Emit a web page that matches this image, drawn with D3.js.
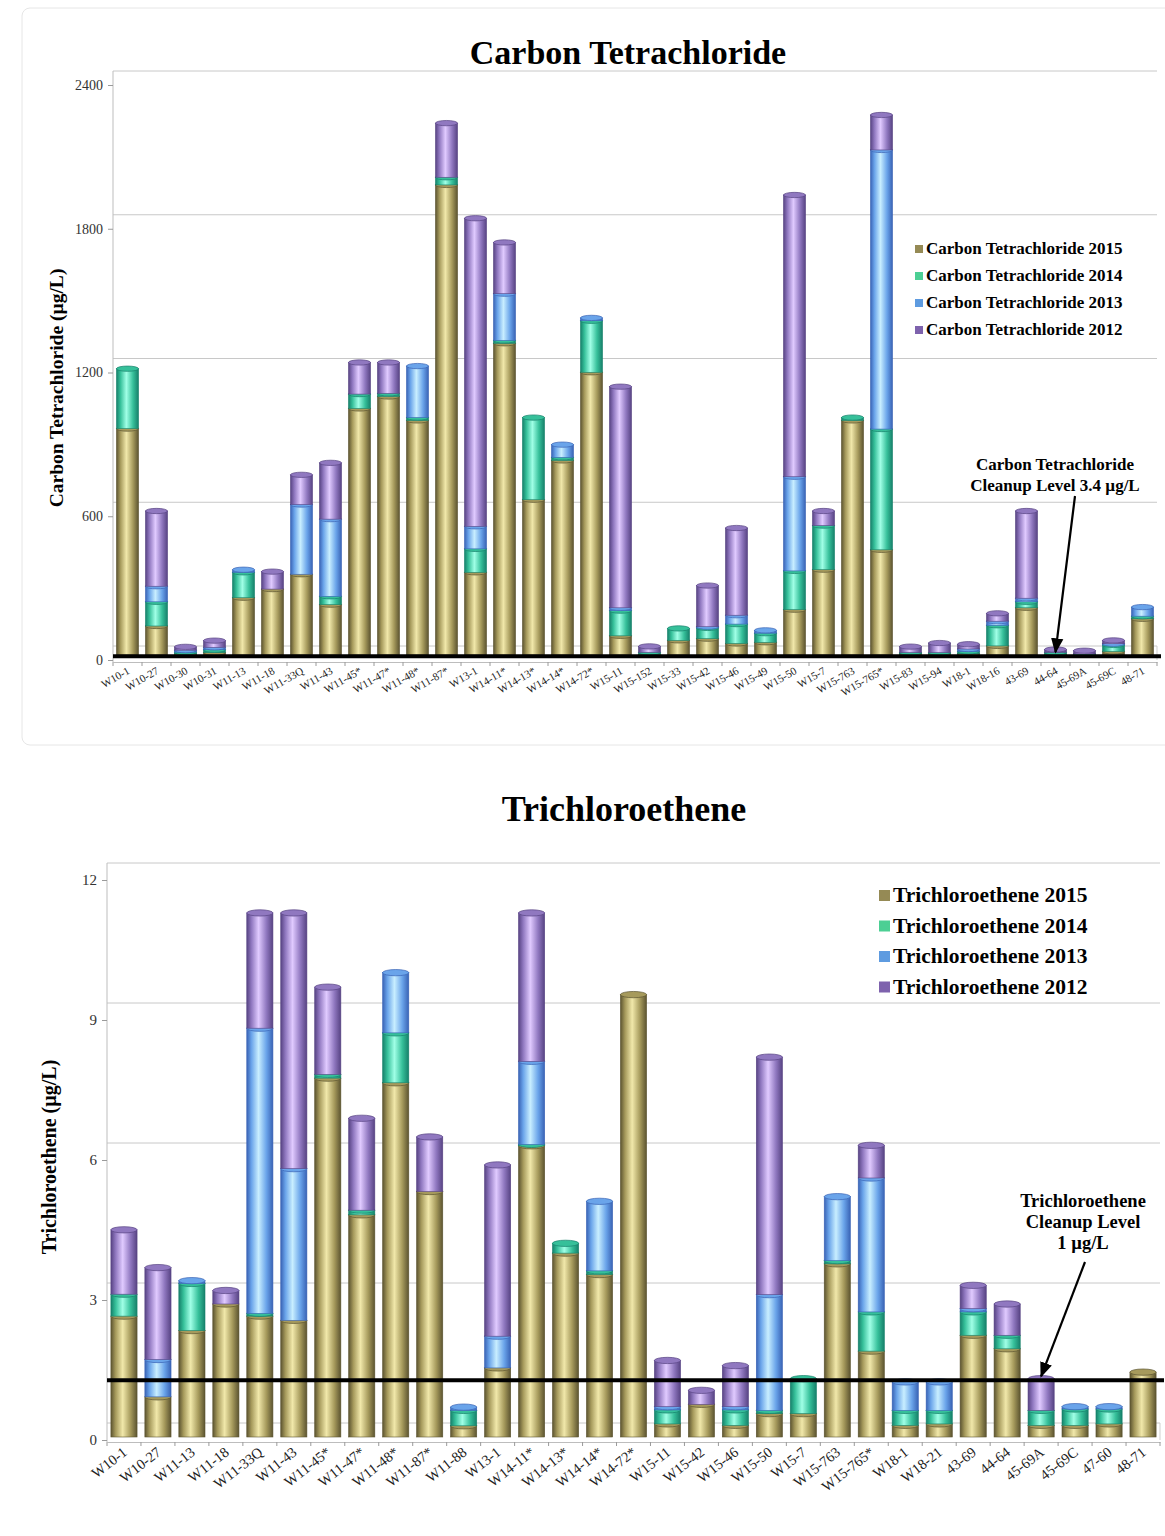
<!DOCTYPE html>
<html>
<head>
<meta charset="utf-8">
<script src="https://cdn.jsdelivr.net/npm/d3@7"></script>
<style>
  body { margin: 0; background: #fff; }
  svg { display: block; font-family: "Liberation Serif", "Times New Roman", serif; }
</style>
</head>
<body>
<svg id="chart" width="1165" height="1536"></svg>
<script>
// ---- Carbon Tetrachloride (ug/L) ----
const ctWells = ["W10-1", "W10-27", "W10-30", "W10-31", "W11-13", "W11-18", "W11-33Q", "W11-43",
  "W11-45*", "W11-47*", "W11-48*", "W11-87*", "W13-1", "W14-11*", "W14-13*", "W14-14*", "W14-72*",
  "W15-11", "W15-152", "W15-33", "W15-42", "W15-46", "W15-49", "W15-50", "W15-7", "W15-763",
  "W15-765*", "W15-83", "W15-94", "W18-1", "W18-16", "43-69", "44-64", "45-69A", "45-69C", "48-71"];
const ct2015 = [945, 121, 4, 10, 239, 275, 337, 210, 1029, 1079, 979, 1962, 345, 1301, 648, 812, 1180,
  80, 3, 61, 68, 48, 53, 189, 356, 979, 439, 5, 5, 5, 38, 197, 3, 2, 15, 151];
const ct2014 = [250, 101, 8, 12, 106, 0, 0, 35, 60, 13, 12, 32, 98, 12, 343, 13, 215,
  105, 8, 50, 45, 81, 38, 162, 184, 12, 504, 5, 5, 10, 86, 25, 8, 2, 27, 11];
const ct2013 = [0, 65, 8, 10, 11, 0, 291, 322, 0, 0, 215, 0, 94, 195, 0, 53, 12,
  12, 0, 0, 5, 37, 12, 393, 0, 0, 1165, 0, 0, 10, 17, 15, 0, 0, 5, 38];
const ct2012 = [0, 314, 14, 28, 0, 73, 124, 235, 132, 129, 0, 226, 1286, 214, 0, 0, 0,
  923, 25, 0, 172, 364, 0, 1176, 61, 0, 146, 25, 40, 20, 33, 364, 12, 14, 14, 0];
const ctTicks = [0, 600, 1200, 1800, 2400];

// ---- Trichloroethene (ug/L) ----
const tceWells = ["W10-1", "W10-27", "W11-13", "W11-18", "W11-33Q", "W11-43", "W11-45*", "W11-47*",
  "W11-48*", "W11-87*", "W11-88", "W13-1", "W14-11*", "W14-13*", "W14-14*", "W14-72*", "W15-11",
  "W15-42", "W15-46", "W15-50", "W15-7", "W15-763", "W15-765*", "W18-1", "W18-21", "43-69",
  "44-64", "45-69A", "45-69C", "47-60", "48-71"];
const tce2015 = [2.59, 0.86, 2.28, 2.85, 2.59, 2.50, 7.69, 4.76, 7.59, 5.26, 0.24, 1.48, 6.24, 3.94,
  3.48, 9.48, 0.28, 0.70, 0.25, 0.50, 0.50, 3.71, 1.84, 0.25, 0.28, 2.18, 1.89, 0.25, 0.25, 0.28, 1.39];
const tce2014 = [0.47, 0, 1.01, 0, 0.06, 0, 0.08, 0.10, 1.07, 0, 0.33, 0, 0.03, 0.21,
  0.08, 0, 0.30, 0, 0.33, 0.07, 0.75, 0.07, 0.84, 0.32, 0.29, 0.50, 0.29, 0.32, 0.35, 0.32, 0];
const tce2013 = [0, 0.80, 0.06, 0, 6.11, 3.25, 0, 0, 1.29, 0, 0.07, 0.68, 1.78, 0,
  1.49, 0, 0.07, 0, 0.07, 2.48, 0, 1.37, 2.87, 0.61, 0.61, 0.07, 0, 0, 0.05, 0.05, 0];
const tce2012 = [1.38, 1.97, 0, 0.29, 2.47, 5.48, 1.87, 1.97, 0, 1.17, 0, 3.67, 3.18, 0,
  0, 0, 0.99, 0.30, 0.88, 5.09, 0, 0, 0.70, 0, 0, 0.50, 0.67, 0.68, 0, 0, 0];
const tceTicks = [0, 3, 6, 9, 12];

const years = ["2015", "2014", "2013", "2012"];
// dark edge, mid, highlight for the cylinder look, plus a flat legend colour
const palette = {
  "2015": { dark: "#5c5430", mid: "#a69a5c", light: "#f1e8aa", key: "#958a55" },
  "2014": { dark: "#16806a", mid: "#36c09a", light: "#a0ffe6", key: "#4ccf94" },
  "2013": { dark: "#3963b5", mid: "#6aa4ea", light: "#c8eeff", key: "#5e9be0" },
  "2012": { dark: "#574383", mid: "#9078c0", light: "#e0caff", key: "#7e62ad" }
};

const svg = d3.select("#chart");
const defs = svg.append("defs");

years.forEach(function(yr) {
  let c = palette[yr];
  let g = defs.append("linearGradient").attr("id", "cyl" + yr)
    .attr("x1", 0).attr("x2", 1).attr("y1", 0).attr("y2", 0);
  g.append("stop").attr("offset", "0%").attr("stop-color", c.dark);
  g.append("stop").attr("offset", "18%").attr("stop-color", c.mid);
  g.append("stop").attr("offset", "45%").attr("stop-color", c.light);
  g.append("stop").attr("offset", "75%").attr("stop-color", c.mid);
  g.append("stop").attr("offset", "100%").attr("stop-color", c.dark);
});

defs.append("marker").attr("id", "arrow")
  .attr("viewBox", "0 0 10 10").attr("refX", 9).attr("refY", 5)
  .attr("markerWidth", 7).attr("markerHeight", 7).attr("orient", "auto")
  .append("path").attr("d", "M0,1 L10,5 L0,9 Z").attr("fill", "#000");

// faint chart-area frame around the upper chart
svg.append("rect").attr("x", 22).attr("y", 8).attr("width", 1200).attr("height", 737)
  .attr("rx", 8).attr("fill", "none").attr("stroke", "#e6e6e6");

function drawChart(o) {
  let g = svg.append("g");
  let rows = o.wells.map(function(w, i) {
    let r = { well: w };
    years.forEach(function(yr, k) { r[yr] = o.series[k][i]; });
    return r;
  });
  let stacked = d3.stack().keys(years)(rows);

  let x = d3.scaleBand().domain(o.wells).range([o.x0, o.x1]).paddingInner(o.pad).paddingOuter(o.pad / 2);
  // front scale (axis labels); bars and back wall are drawn with a small depth shift
  let y = d3.scaleLinear().domain([0, o.max]).range([o.yZero, o.yTop]);
  let yBar = function(v) { return y(v) + o.barShift; };
  let yWall = function(v) { return y(v) + o.wallShift; };

  // title
  g.append("text").attr("x", o.titleX).attr("y", o.titleY)
    .attr("text-anchor", "middle").attr("font-weight", "bold").attr("font-size", o.titleSize)
    .text(o.title);

  // back wall gridlines + left wall
  g.selectAll(".grid").data(o.ticks).enter().append("line")
    .attr("x1", o.x0).attr("x2", o.x1)
    .attr("y1", function(d) { return yWall(d); }).attr("y2", function(d) { return yWall(d); })
    .attr("stroke", "#c8c8c8").attr("stroke-width", 1);
  g.append("line").attr("x1", o.x0).attr("x2", o.x0)
    .attr("y1", yWall(o.max)).attr("y2", o.yZero + 2)
    .attr("stroke", "#bdbdbd");
  g.append("line").attr("x1", o.x1).attr("x2", o.x1)
    .attr("y1", yWall(0)).attr("y2", o.yZero)
    .attr("stroke", "#cfcfcf");

  // y axis
  let yAxis = d3.axisLeft(y).tickValues(o.ticks).tickFormat(d3.format("d")).tickSize(5).tickPadding(5);
  let ax = g.append("g").attr("transform", "translate(" + o.x0 + ",0)").call(yAxis);
  ax.select(".domain").remove();
  ax.selectAll("line").attr("stroke", "#9a9a9a");
  ax.selectAll("text").attr("font-family", "Liberation Serif, serif")
    .attr("font-size", o.tickSize).attr("fill", "#333");

  g.append("text")
    .attr("transform", "translate(" + o.yLabelX + "," + o.yLabelY + ") rotate(-90)")
    .attr("text-anchor", "middle").attr("font-weight", "bold").attr("font-size", o.yLabelSize)
    .text(o.yLabel);

  // x axis ticks and labels
  let xAxis = d3.axisBottom(x).tickSize(0).tickFormat("");
  let xa = g.append("g").attr("transform", "translate(0," + (o.yZero + 2) + ")").call(xAxis);
  xa.select(".domain").attr("stroke", "#bdbdbd");
  g.selectAll(".xtick").data(o.wells.concat([null])).enter().append("line")
    .attr("x1", function(d, i) { return o.x0 + i * x.step(); })
    .attr("x2", function(d, i) { return o.x0 + i * x.step(); })
    .attr("y1", o.yZero + 2).attr("y2", o.yZero + 6)
    .attr("stroke", "#9a9a9a");
  g.selectAll(".xlab").data(o.wells).enter().append("text")
    .attr("transform", function(d) {
      return "translate(" + (x(d) + x.bandwidth() / 2 + o.labelDx) + "," + (o.yZero + o.labelDy) + ") rotate(" + o.angle + ")";
    })
    .attr("text-anchor", "end").attr("font-size", o.labelSize).attr("fill", "#222")
    .text(function(d) { return d; });

  // stacked cylinders
  let bw = x.bandwidth();
  let ry = Math.max(2, bw * 0.12);
  stacked.forEach(function(layer) {
    let yr = layer.key;
    let lg = g.append("g");
    let segs = layer.filter(function(d) { return d[1] - d[0] > 0; });
    lg.selectAll("rect").data(segs).enter().append("rect")
      .attr("x", function(d) { return x(d.data.well); })
      .attr("y", function(d) { return yBar(d[1]); })
      .attr("width", bw)
      .attr("height", function(d) { return Math.max(0.8, yBar(d[0]) - yBar(d[1])); })
      .attr("fill", "url(#cyl" + yr + ")")
      .attr("stroke", palette[yr].dark).attr("stroke-width", 0.6);
    lg.selectAll("ellipse").data(segs).enter().append("ellipse")
      .attr("cx", function(d) { return x(d.data.well) + bw / 2; })
      .attr("cy", function(d) { return yBar(d[1]); })
      .attr("rx", bw / 2).attr("ry", ry)
      .attr("fill", palette[yr].mid).attr("stroke", palette[yr].dark).attr("stroke-width", 0.7);
  });

  // cleanup level line
  g.append("line").attr("x1", o.x0).attr("x2", o.x1 + 4)
    .attr("y1", y(o.level) + o.lineShift).attr("y2", y(o.level) + o.lineShift)
    .attr("stroke", "#000").attr("stroke-width", 4);

  // legend
  let leg = g.append("g");
  years.forEach(function(yr, k) {
    let ly = o.legY + k * o.legDy;
    leg.append("rect").attr("x", o.legX).attr("y", ly - o.legBox - 1)
      .attr("width", o.legBox).attr("height", o.legBox).attr("fill", palette[yr].key);
    leg.append("text").attr("x", o.legX + o.legBox + 3).attr("y", ly)
      .attr("font-weight", "bold").attr("font-size", o.legSize)
      .text(o.name + " " + yr);
  });

  // annotation
  o.note.forEach(function(t, k) {
    g.append("text").attr("x", o.noteX).attr("y", o.noteY + k * o.noteDy)
      .attr("text-anchor", "middle").attr("font-weight", "bold").attr("font-size", o.noteSize)
      .text(t);
  });
  let tipX = x(o.arrowWell) + bw / 2;
  g.append("line")
    .attr("x1", o.arrowFrom[0]).attr("y1", o.arrowFrom[1])
    .attr("x2", tipX).attr("y2", y(o.level) + o.lineShift - 4)
    .attr("stroke", "#000").attr("stroke-width", 2.2)
    .attr("marker-end", "url(#arrow)");
}

drawChart({
  wells: ctWells, series: [ct2015, ct2014, ct2013, ct2012], max: 2400, ticks: ctTicks,
  x0: 113, x1: 1157, pad: 0.24, yZero: 660, yTop: 85, barShift: -5, wallShift: -14, lineShift: -3,
  level: 3.4, title: "Carbon Tetrachloride", titleX: 628, titleY: 64, titleSize: 34,
  yLabel: "Carbon Tetrachloride  (\u00b5g/L)", yLabelX: 63, yLabelY: 388, yLabelSize: 19.5, tickSize: 14,
  labelSize: 11, labelDx: 3, labelDy: 13, angle: -30,
  name: "Carbon Tetrachloride", legX: 915, legY: 254, legDy: 27, legBox: 8, legSize: 17,
  note: ["Carbon Tetrachloride", "Cleanup Level 3.4 \u00b5g/L"], noteX: 1055, noteY: 470, noteDy: 21, noteSize: 17,
  arrowFrom: [1075, 496], arrowWell: "44-64"
});

drawChart({
  wells: tceWells, series: [tce2015, tce2014, tce2013, tce2012], max: 12, ticks: tceTicks,
  x0: 107, x1: 1160, pad: 0.23, yZero: 1440, yTop: 880, barShift: -3, wallShift: -17, lineShift: -13,
  level: 1, title: "Trichloroethene", titleX: 624, titleY: 821, titleSize: 36,
  yLabel: "Trichloroethene  (\u00b5g/L)", yLabelX: 56, yLabelY: 1157, yLabelSize: 20, tickSize: 15,
  labelSize: 14.5, labelDx: 4, labelDy: 14, angle: -38,
  name: "Trichloroethene", legX: 879, legY: 902, legDy: 30.5, legBox: 11, legSize: 21.5,
  note: ["Trichloroethene", "Cleanup Level", "1 \u00b5g/L"], noteX: 1083, noteY: 1207, noteDy: 21, noteSize: 18.5,
  arrowFrom: [1085, 1262], arrowWell: "45-69A"
});
</script>
</body>
</html>
